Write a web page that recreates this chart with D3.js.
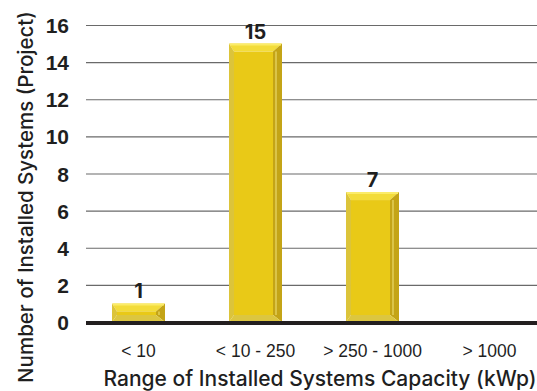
<!DOCTYPE html>
<html>
<head>
<meta charset="utf-8">
<script src="https://cdn.jsdelivr.net/npm/d3@7"></script>
<style>
  html, body { margin: 0; padding: 0; background: #fff; }
  svg { display: block; font-family: Inter, "DejaVu Sans", sans-serif; }
</style>
</head>
<body>
<svg id="chart" width="537" height="391"></svg>
<script>
// Installed systems by capacity range
const categories = ["< 10", "< 10 - 250", "> 250 - 1000", "> 1000"];
const counts = [1, 15, 7, null];
const yTicks = [0, 2, 4, 6, 8, 10, 12, 14, 16];

const svg = d3.select("#chart");
const W = 537, H = 391;
const margin = { left: 86, right: 0, top: 25, bottom: 69 };
const baseY = H - margin.bottom;

const x = d3.scaleBand()
  .domain(categories)
  .range([80, 548])
  .paddingInner(0.547)
  .paddingOuter(0.2735);

const y = d3.scaleLinear()
  .domain([0, 16])
  .range([baseY, margin.top]);

// Horizontal gridlines
const yAxis = d3.axisLeft(y)
  .tickValues(yTicks)
  .tickSize(-(W - margin.left))
  .tickPadding(17)
  .tickFormat(d3.format("d"));

const gy = svg.append("g")
  .attr("transform", `translate(${margin.left},0)`)
  .call(yAxis);
gy.select(".domain").remove();
gy.selectAll(".tick line")
  .attr("stroke", "#6a6a6a")
  .attr("stroke-width", 1.2);
gy.selectAll(".tick text")
  .attr("fill", "#1f1f1f")
  .attr("font-size", 21)
  .attr("font-weight", 600)
  .attr("dy", "0.36em");
gy.selectAll(".tick").filter(d => d === 0).select("line").remove();

// Bevelled gold bars
const L = 5, R = 9, T = 8, B = 7;
const bars = svg.append("g");
categories.forEach((c, i) => {
  const v = counts[i];
  if (v == null) return;
  const x0 = x(c), x1 = x(c) + x.bandwidth();
  const y0 = y(v), y1 = baseY;
  const g = bars.append("g");
  const poly = (pts, fill) => g.append("polygon")
    .attr("points", pts.map(p => p.join(",")).join(" "))
    .attr("fill", fill);
  const t = Math.min(T, (y1 - y0) / 2), b = Math.min(B, (y1 - y0) / 2);
  poly([[x0, y0], [x1, y0], [x1 - R, y0 + t], [x0 + L, y0 + t]], "#f3dc3a");
  poly([[x0, y0], [x0 + L, y0 + t], [x0 + L, y1 - b], [x0, y1]], "#dcc43a");
  poly([[x1, y0], [x1, y1], [x1 - R, y1 - b], [x1 - R, y0 + t]], "#c4a416");
  poly([[x0, y1], [x1, y1], [x1 - R, y1 - b], [x0 + L, y1 - b]], "#dcc640");
  g.append("rect")
    .attr("x", x0 + L).attr("y", y0 + t)
    .attr("width", x1 - x0 - L - R).attr("height", Math.max(0, y1 - y0 - t - b))
    .attr("fill", "#e9c917");
  // side highlight stripe
  g.append("line")
    .attr("x1", x1 - R + 3).attr("x2", x1 - R + 3)
    .attr("y1", y0 + t).attr("y2", y1 - b)
    .attr("stroke", "#e3cf5a").attr("stroke-width", 1.5);
  // top rim highlight
  g.append("line")
    .attr("x1", x0 + 1).attr("x2", x1 - 1)
    .attr("y1", y0 + 1).attr("y2", y0 + 1)
    .attr("stroke", "#fbec6a").attr("stroke-width", 2);

  svg.append("text")
    .attr("x", x0 + x.bandwidth() / 2)
    .attr("y", y0 - 5)
    .attr("text-anchor", "middle")
    .attr("font-size", 20)
    .attr("font-weight", 700)
    .attr("fill", "#1f1f1f")
    .text(v);
});

// Baseline
svg.append("line")
  .attr("x1", margin.left).attr("x2", W)
  .attr("y1", baseY + 1).attr("y2", baseY + 1)
  .attr("stroke", "#231f20")
  .attr("stroke-width", 4);

// Category labels
const xAxis = d3.axisBottom(x).tickSize(0).tickPadding(23);
const gx = svg.append("g")
  .attr("transform", `translate(0,${baseY})`)
  .call(xAxis);
gx.select(".domain").remove();
gx.selectAll(".tick text")
  .attr("fill", "#1f1f1f")
  .attr("font-size", 17.5)
  .attr("font-weight", 500);

// Axis titles
svg.append("text")
  .attr("x", 320)
  .attr("y", 386)
  .attr("text-anchor", "middle")
  .attr("font-size", 21)
  .attr("font-weight", 500)
  .attr("fill", "#1f1f1f")
  .text("Range of Installed Systems Capacity (kWp)");

svg.append("text")
  .attr("transform", "translate(33,197) rotate(-90)")
  .attr("text-anchor", "middle")
  .attr("font-size", 20.5)
  .attr("font-weight", 500)
  .attr("fill", "#1f1f1f")
  .text("Number of Installed Systems (Project)");
</script>
</body>
</html>
